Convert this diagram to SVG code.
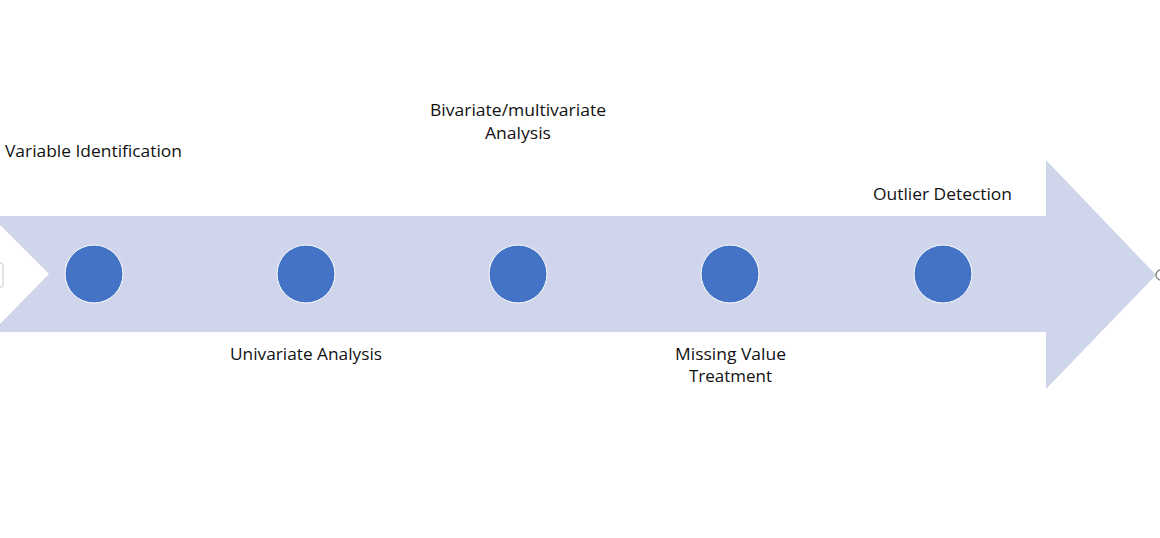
<svg xmlns="http://www.w3.org/2000/svg" width="1160" height="538" viewBox="0 0 1160 538">
<style>
.lbl{font-family:"Open Sans","Liberation Sans",sans-serif;font-size:17px;fill:#111111}
.dot{fill:#4472C4;stroke:#ffffff;stroke-width:1}
</style>
<rect width="1160" height="538" fill="#ffffff"/>
<g id="arrow">
<polygon points="0,216 1046,216 1046,160 1156,275 1046,389 1046,332 0,332 0,324 49,274 0,225" fill="#CFD5EA"/>
<rect x="-3" y="263" width="6" height="24" rx="2" fill="none" stroke="#c8c8c8" stroke-width="1"/>
<circle cx="1161" cy="275" r="5" fill="none" stroke="#8a8a8a" stroke-width="1.5"/>
</g>
<g id="connectors"></g>
<g id="n1"><circle class="dot" cx="94" cy="274" r="29"/><text class="lbl" x="5" y="157" textLength="177" lengthAdjust="spacingAndGlyphs">Variable Identification</text></g>
<g id="n2"><circle class="dot" cx="306" cy="274" r="29"/><text class="lbl" x="230" y="360" textLength="152" lengthAdjust="spacingAndGlyphs">Univariate Analysis</text></g>
<g id="n3"><circle class="dot" cx="518" cy="274" r="29"/><text class="lbl" x="430" y="116" textLength="176" lengthAdjust="spacingAndGlyphs">Bivariate/multivariate</text><text class="lbl" x="485" y="139" textLength="66" lengthAdjust="spacingAndGlyphs">Analysis</text></g>
<g id="n4"><circle class="dot" cx="730" cy="274" r="29"/><text class="lbl" x="675" y="360" textLength="111" lengthAdjust="spacingAndGlyphs">Missing Value</text><text class="lbl" x="689" y="382" textLength="83" lengthAdjust="spacingAndGlyphs">Treatment</text></g>
<g id="n5"><circle class="dot" cx="943" cy="274" r="29"/><text class="lbl" x="873" y="200" textLength="139" lengthAdjust="spacingAndGlyphs">Outlier Detection</text></g>
</svg>
